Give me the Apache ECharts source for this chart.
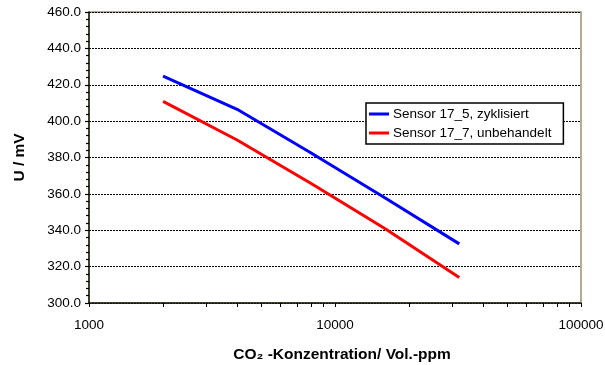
<!DOCTYPE html>
<html><head><meta charset="utf-8">
<script src="https://cdn.jsdelivr.net/npm/echarts@6/dist/echarts.min.js"></script>
<style>html,body{margin:0;padding:0;background:#fff}#c{width:605px;height:365px}</style>
</head><body><div id="c"></div>
<script>
var concentrations = [2000, 4000, 8000, 16000, 32000];
var sensor175 = [424.8, 406.5, 382.5, 357.7, 332.5];
var sensor177 = [410.9, 389.6, 365.7, 340.8, 314.0];
var seriesNames = ['Sensor 17_5, zyklisiert', 'Sensor 17_7, unbehandelt'];
var xTickValues = [1000,2000,3000,4000,5000,6000,7000,8000,9000,10000,20000,30000,40000,50000,60000,70000,80000,90000,100000];
var xLabelValues = [1000, 10000, 100000];
var yMin = 300, yMax = 460, yStep = 20;

function pairs(xs, ys){ return xs.map(function(x,i){ return [x, ys[i]]; }); }

var font = 'Arial, "Liberation Sans", sans-serif';
var chart = echarts.init(document.getElementById('c'), null, {renderer:'canvas'});
chart.setOption({
  animation:false,
  backgroundColor:'#fff',
  grid:{left:89, right:24, top:12, bottom:62, show:true, borderColor:'#9c9272', borderWidth:1.5, backgroundColor:'transparent', containLabel:false, outerBoundsMode:'none'},
  legend:{
    orient:'vertical', left:366, top:103,
    backgroundColor:'#fff', borderColor:'#000', borderWidth:1.5,
    padding:[4,12,4,3], itemGap:5, itemWidth:20, itemHeight:3, icon:'rect',
    textStyle:{fontFamily:font, fontSize:13.5, color:'#000', padding:[0,0,0,-1]},
    data:seriesNames
  },
  xAxis:{
    type:'log', logBase:10, min:1000, max:100000,
    name:'CO\u2082 -Konzentration/ Vol.-ppm', nameLocation:'middle', nameGap:44,
    nameTextStyle:{fontFamily:font, fontSize:15.5, fontWeight:'bold', color:'#000', padding:[0,0,0,14]},
    axisLine:{onZero:false, lineStyle:{color:'#1a1a0a', width:1.5}},
    axisTick:{show:true, length:4, lineStyle:{color:'#000', width:1}, customValues:xTickValues},
    axisLabel:{fontFamily:font, fontSize:13.5, color:'#000', margin:15, customValues:xLabelValues, formatter:function(v){return String(v);}},
    splitLine:{show:false}, minorTick:{show:false}
  },
  yAxis:{
    type:'value', min:yMin, max:yMax, interval:yStep,
    name:'U / mV', nameLocation:'middle', nameGap:61, nameRotate:90,
    nameTextStyle:{fontFamily:font, fontSize:15.5, fontWeight:'bold', color:'#000'},
    axisLine:{show:true, lineStyle:{color:'#1a1a0a', width:1.5}},
    axisTick:{show:true, length:4, lineStyle:{color:'#000', width:1.2}},
    minorTick:{show:true, splitNumber:5, length:3, lineStyle:{color:'#000', width:1.2}},
    axisLabel:{fontFamily:font, fontSize:13.5, color:'#000', margin:8, formatter:function(v){return v.toFixed(1);}},
    splitLine:{show:true, lineStyle:{color:'#000', type:[2,1], width:1}}
  },
  series:[
    {name:seriesNames[0], type:'line', data:pairs(concentrations, sensor175), symbol:'none', lineStyle:{color:'#0000ff', width:3}, itemStyle:{color:'#0000ff'}},
    {name:seriesNames[1], type:'line', data:pairs(concentrations, sensor177), symbol:'none', lineStyle:{color:'#ff0000', width:3}, itemStyle:{color:'#ff0000'}}
  ]
});
</script></body></html>
